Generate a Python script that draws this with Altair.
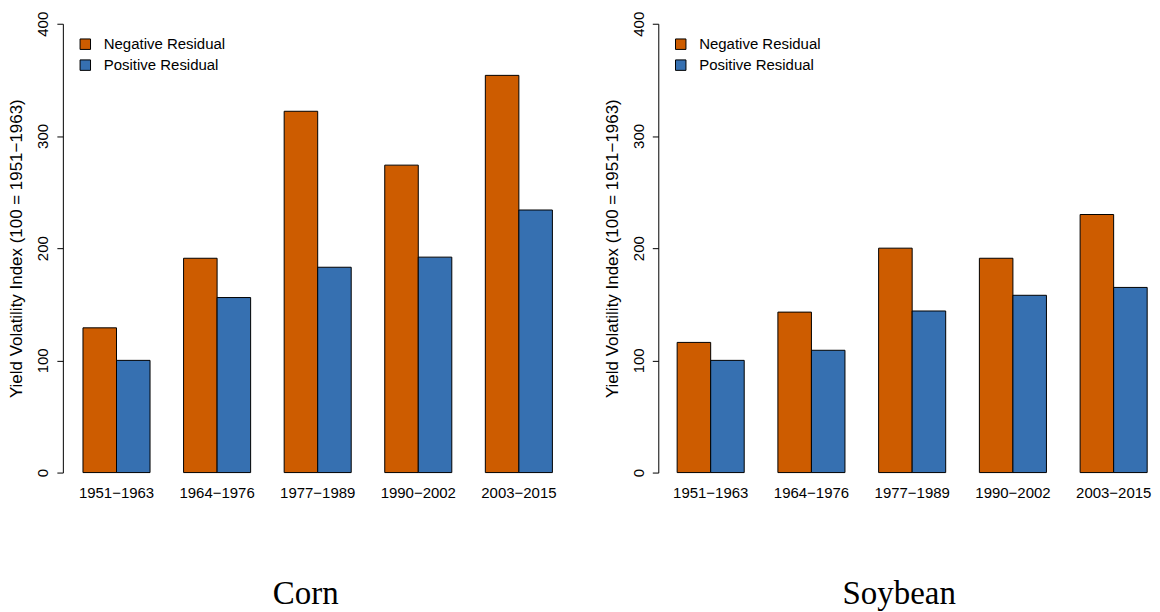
import altair as alt
import pandas as pd

periods = ["1951−1963", "1964−1976", "1977−1989", "1990−2002", "2003−2015"]
residual_types = ["Negative Residual", "Positive Residual"]
corn_negative = [129, 191, 322, 274, 354]
corn_positive = [100, 156, 183, 192, 234]
soy_negative = [116, 143, 200, 191, 230]
soy_positive = [100, 109, 144, 158, 165]
y_ticks = [0, 100, 200, 300, 400]
colors = ["#CD5C00", "#3670B1"]
panel_titles = ["Corn", "Soybean"]
y_title = "Yield Volatility Index (100 = 1951−1963)"


def make_df(neg, pos):
    rows = []
    for p, n, q in zip(periods, neg, pos):
        rows.append({"period": p, "residual": residual_types[0], "value": n})
        rows.append({"period": p, "residual": residual_types[1], "value": q})
    return pd.DataFrame(rows)


def panel(df, title, width, outer, align, dx):
    return alt.Chart(df).mark_bar(stroke="black", strokeWidth=1).encode(
        x=alt.X(
            "period:N", sort=periods,
            scale=alt.Scale(paddingInner=1 / 3, paddingOuter=outer, align=align),
            axis=alt.Axis(title=None, labelAngle=0, domain=False, ticks=False,
                          labelPadding=13, labelFontSize=15, labelColor="black",
                          labelFont="Liberation Sans"),
        ),
        xOffset=alt.XOffset("residual:N", sort=residual_types),
        y=alt.Y(
            "value:Q",
            scale=alt.Scale(domain=[0, 400], nice=False),
            axis=alt.Axis(title=y_title, values=y_ticks, grid=False,
                          domainColor="black", tickColor="black", tickSize=6,
                          labelAngle=-90, labelAlign="center", labelBaseline="bottom",
                          labelPadding=6, labelFontSize=15, labelColor="black",
                          labelFont="Liberation Sans",
                          titleFontSize=17, titleFontWeight="normal", titleColor="black",
                          titleFont="Liberation Sans", titlePadding=10),
        ),
        color=alt.Color(
            "residual:N", sort=residual_types,
            scale=alt.Scale(domain=residual_types, range=colors),
            legend=alt.Legend(title=None, orient="none", legendX=15, legendY=13,
                              symbolType="square", symbolSize=110,
                              symbolStrokeColor="black", symbolStrokeWidth=1,
                              labelFontSize=15, labelFont="Liberation Sans",
                              labelColor="black", labelOffset=11, rowPadding=5,
                              padding=0),
        ),
    ).properties(
        width=width, height=450,
        title=alt.TitleParams(title, orient="bottom", anchor="middle", frame="group",
                              font="Liberation Serif", fontSize=33, fontWeight="normal",
                              color="black", offset=78, dx=dx),
    )


left = panel(make_df(corn_negative, corn_positive), panel_titles[0], 511, 0.2, 0.5, -12)
right = panel(make_df(soy_negative, soy_positive), panel_titles[1], 495, 0.117, 0.8, -6)

chart = alt.hconcat(left, right, spacing=31).resolve_scale(color="independent").properties(
    padding={"left": 0, "top": 2, "right": 0, "bottom": 0}
).configure(font="Liberation Sans").configure_view(stroke=None)

chart.save("out.html", embed_options={"renderer": "svg", "actions": False})
